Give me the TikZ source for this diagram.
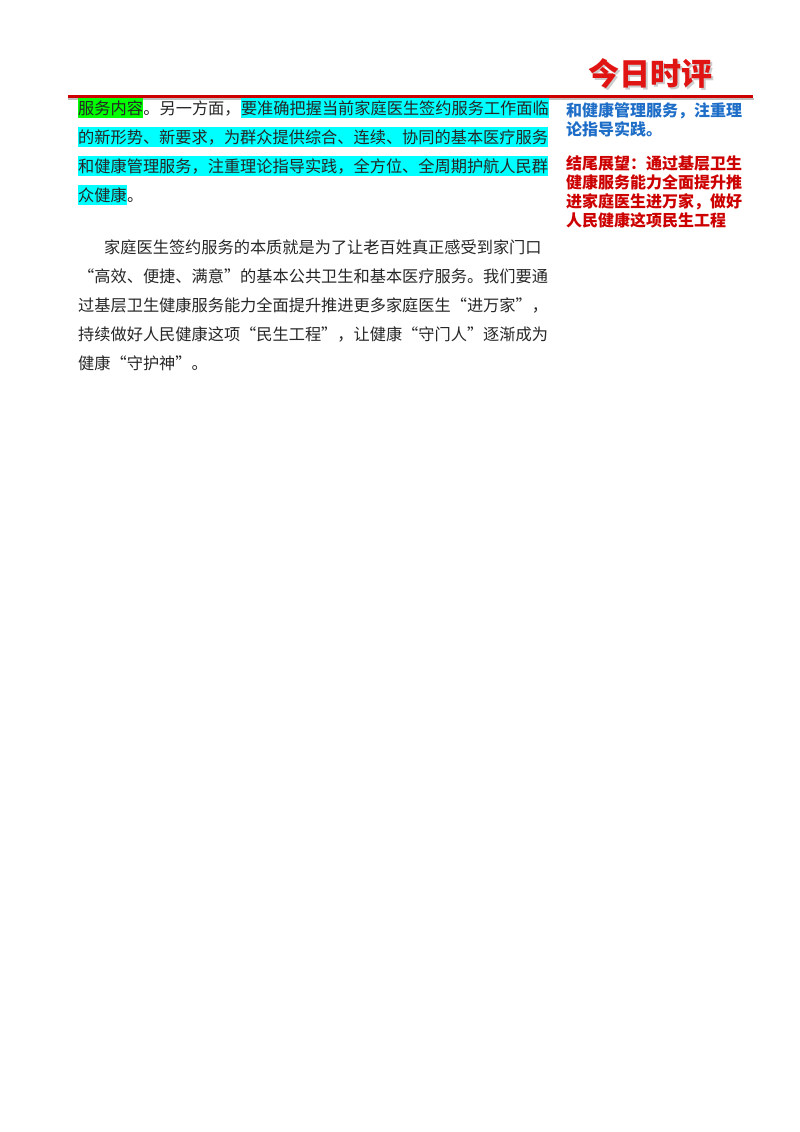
\documentclass[tikz,border=0pt]{standalone}
\usepackage{fontspec}
\newfontfamily\cjk{Noto Sans CJK SC}
\definecolor{hcyan}{RGB}{0,255,255}
\definecolor{hgreen}{RGB}{0,255,0}
\definecolor{rblue}{RGB}{30,110,200}
\definecolor{rred}{RGB}{205,0,0}
\definecolor{logored}{RGB}{225,20,20}
\begin{document}
\begin{tikzpicture}[x=1pt,y=-1pt,
  body/.style={anchor=base west,inner sep=0pt,font=\cjk\fontsize{16.2}{18}\selectfont,text=black!85},
  hl/.style={body,fill=#1,inner ysep=2.5pt},
  side/.style={anchor=base west,inner sep=0pt,font=\cjk\bfseries\fontsize{16}{18}\selectfont}]
\useasboundingbox (0,0) rectangle (800,1132);
% header
\node[anchor=center,font=\cjk\bfseries\fontsize{31}{33}\selectfont,text=black!20] (logoS) at (652,76) {今日时评};
\node[anchor=center,font=\cjk\bfseries\fontsize{31}{33}\selectfont,text=logored] (logo) at (650,74) {今日时评};
\draw[black!25,line width=2pt] (68,99) -- (754,99);
\draw[rred,line width=2.6pt] (68,96.5) -- (753,96.5);
% para 1
\node[hl=hgreen] (a1) at (78,114) {服务内容};
\node[body] (a2) at (a1.base east) {。另一方面，};
\node[hl=hcyan] (a3) at (a2.base east) {要准确把握当前家庭医生签约服务工作面临};
\node[hl=hcyan] (b1) at (78,143) {的新形势、新要求，为群众提供综合、连续、协同的基本医疗服务};
\node[hl=hcyan] (c1) at (78,172) {和健康管理服务，注重理论指导实践，全方位、全周期护航人民群};
\node[hl=hcyan] (d1) at (78,201) {众健康};
\node[body] (d2) at (d1.base east) {。};
% para 2
\node[body] (e1) at (104,253) {家庭医生签约服务的本质就是为了让老百姓真正感受到家门口};
\node[body] (e2) at (78,282) {“高效、便捷、满意”的基本公共卫生和基本医疗服务。我们要通};
\node[body] (e3) at (78,311) {过基层卫生健康服务能力全面提升推进更多家庭医生“进万家”，};
\node[body] (e4) at (78,340) {持续做好人民健康这项“民生工程”，让健康“守门人”逐渐成为};
\node[body] (e5) at (78,369) {健康“守护神”。};
% side column
\node[side,text=rblue] (s1) at (566,116) {和健康管理服务，注重理};
\node[side,text=rblue] (s2) at (566,135) {论指导实践。};
\node[side,text=rred] (s3) at (566,169) {结尾展望：通过基层卫生};
\node[side,text=rred] (s4) at (566,188) {健康服务能力全面提升推};
\node[side,text=rred] (s5) at (566,207) {进家庭医生进万家，做好};
\node[side,text=rred] (s6) at (566,226) {人民健康这项民生工程};
\end{tikzpicture}
\end{document}
